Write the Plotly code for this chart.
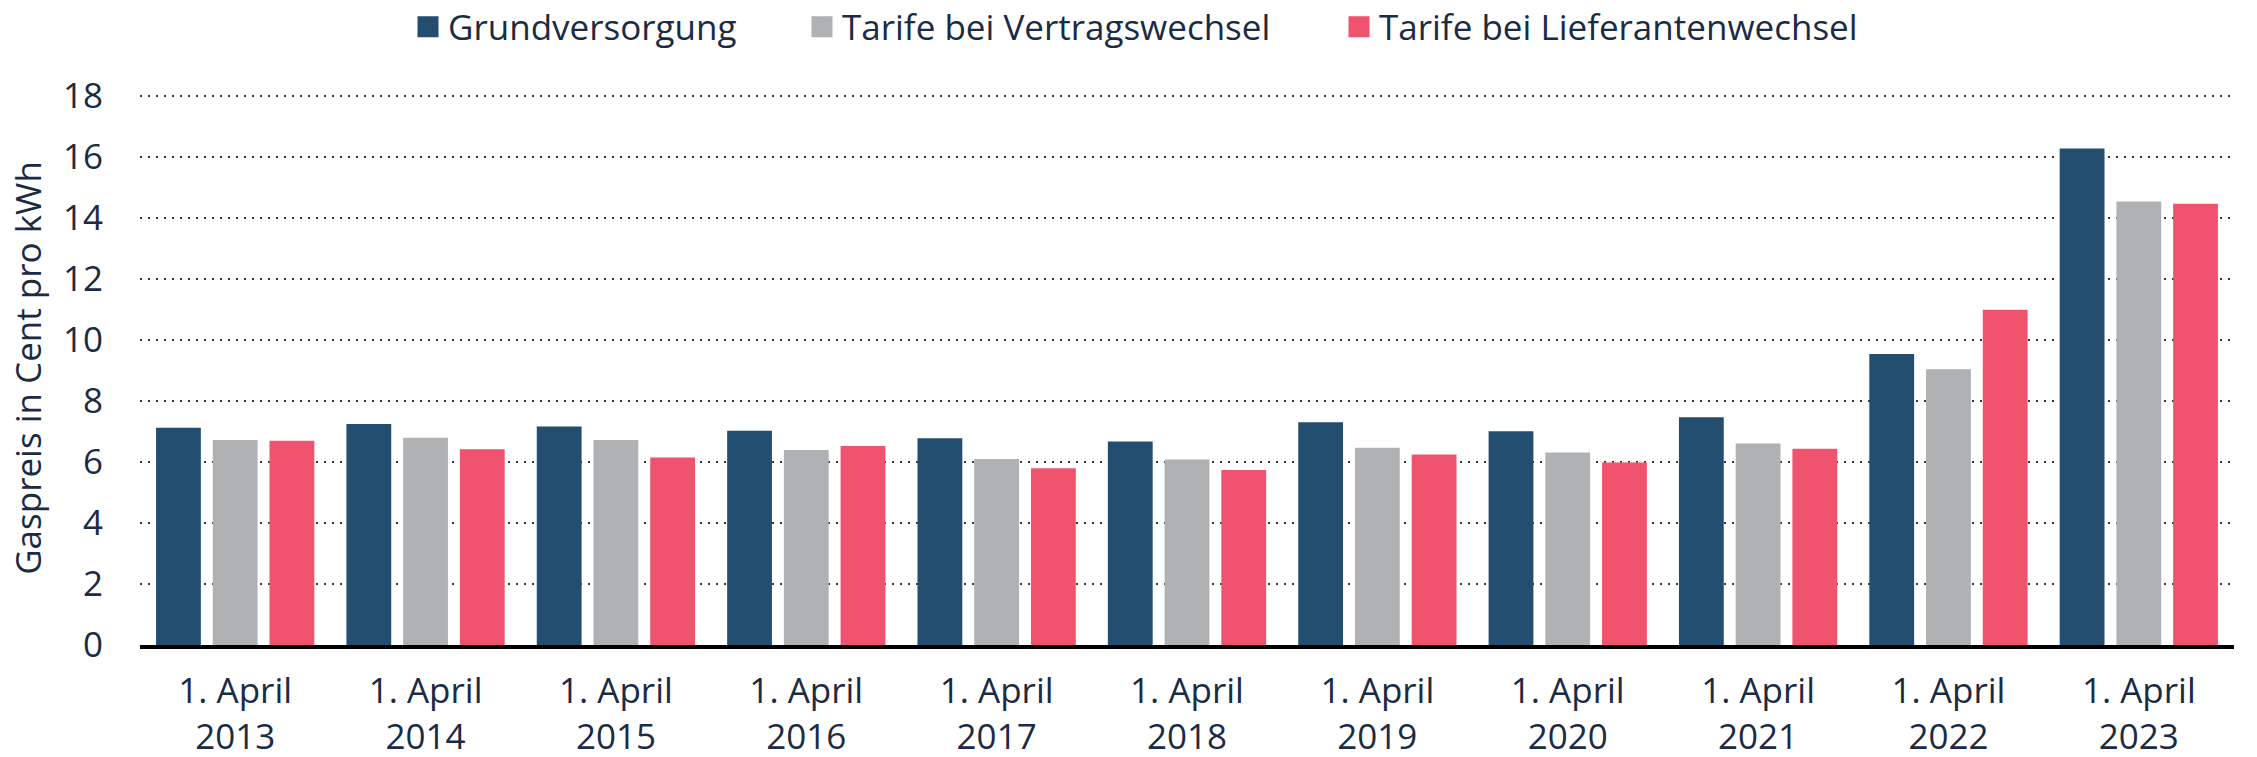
import plotly.graph_objects as go

years = ["2013", "2014", "2015", "2016", "2017", "2018", "2019", "2020", "2021", "2022", "2023"]
categories = ["1. April<br>" + y for y in years]
series_names = ["Grundversorgung", "Tarife bei Vertragswechsel", "Tarife bei Lieferantenwechsel"]
grundversorgung = [7.12, 7.24, 7.16, 7.02, 6.77, 6.67, 7.30, 7.00, 7.46, 9.53, 16.27]
vertragswechsel = [6.72, 6.79, 6.72, 6.39, 6.09, 6.08, 6.46, 6.31, 6.60, 9.03, 14.53]
lieferantenwechsel = [6.69, 6.41, 6.14, 6.52, 5.79, 5.73, 6.24, 5.98, 6.43, 10.98, 14.46]
colors = ["#234e70", "#b0b1b3", "#ef536d"]
y_ticks = [0, 2, 4, 6, 8, 10, 12, 14, 16, 18]

W, H = 2257, 757
TXT = "#1b2b44"
FONT = "Open Sans"
FS = 35

fig = go.Figure()
for name, vals, col in zip(series_names, [grundversorgung, vertragswechsel, lieferantenwechsel], colors):
    fig.add_trace(go.Bar(x=categories, y=vals, name=name, marker=dict(color=col, line=dict(width=0)),
                         showlegend=False))

# legend entries (one legend per entry for exact placement)
legend_x = [416, 810, 1347]
legend_keys = ["legend", "legend2", "legend3"]
for name, col, lk in zip(series_names, colors, legend_keys):
    fig.add_trace(go.Scatter(x=[None], y=[None], mode="markers", name=name,
                             marker=dict(symbol="square", size=16, color=col,
                                         line=dict(color=col, width=6)),
                             legend=lk, showlegend=True))

layout_legends = {}
for lx, lk in zip(legend_x, legend_keys):
    layout_legends[lk] = dict(x=(lx - 8) / W, xref="container", xanchor="left",
                              y=1 - 27 / H, yref="container", yanchor="middle",
                              orientation="h", bgcolor="rgba(0,0,0,0)",
                              font=dict(family=FONT, size=FS, color=TXT),
                              itemwidth=30)

fig.update_layout(
    width=W, height=H,
    margin=dict(l=140, r=23, t=91, b=112, autoexpand=False),
    paper_bgcolor="white", plot_bgcolor="white",
    barmode="group", bargap=0.106, bargroupgap=0.21,
    font=dict(family=FONT, size=FS, color=TXT),
    **layout_legends,
)
fig.update_yaxes(
    range=[0, 18.15], tickvals=y_ticks, ticktext=[str(v) for v in y_ticks],
    showgrid=True, gridcolor="#3a3a3a", gridwidth=2, griddash="2px,6px",
    zeroline=False, showline=False, ticks="",
    ticklabelstandoff=36,
    tickfont=dict(family=FONT, size=FS, color=TXT),
    title=dict(text="Gaspreis in Cent pro kWh", font=dict(family=FONT, size=FS, color=TXT), standoff=10),
    automargin=False,
)
fig.update_xaxes(
    showline=True, linecolor="black", linewidth=4, ticks="",
    showgrid=False, ticklabelstandoff=12,
    tickfont=dict(family=FONT, size=FS, color=TXT),
    automargin=False,
)

fig.write_html("out.html", config={"displayModeBar": False},
               post_script="document.body.style.margin='0';document.body.style.padding='0';")
